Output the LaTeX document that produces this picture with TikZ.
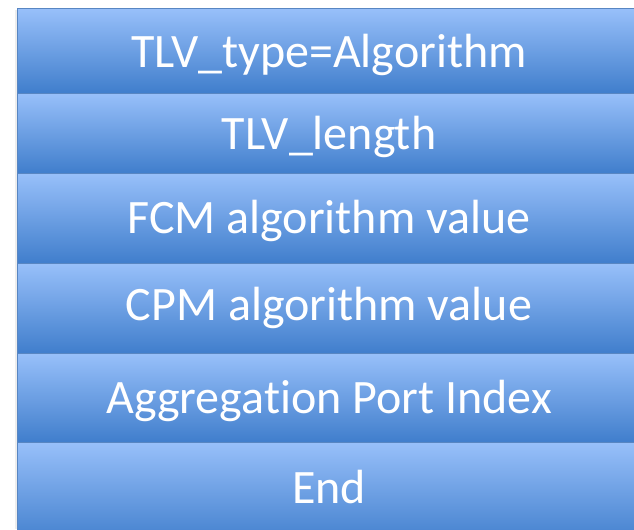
\documentclass[tikz,border=0pt]{standalone}
\usepackage{fontspec}
\setmainfont{Carlito}[Ligatures=NoCommon]
\definecolor{FieldTop}{RGB}{152,192,250}
\definecolor{FieldBottom}{RGB}{64,126,204}
\definecolor{FieldEdge}{RGB}{88,134,194}
\usetikzlibrary{positioning}
\tikzset{
  field/.style={top color=FieldTop, bottom color=FieldBottom, draw=FieldEdge, line width=0.75pt},
  fieldtext/.style={text=white, inner sep=0pt, anchor=base, font=\fontsize{36}{42}\selectfont}
}

\begin{document}
\begin{tikzpicture}[x=0.75pt, y=-0.75pt]
    \useasboundingbox (0,0) rectangle (634,529);
    \clip (0,0) rectangle (634,529);
    % faint shadow on the left side
    \fill[black!7] (14.5,10) rectangle (17,529);

    \foreach \n/\top/\bot/\base/\t in {type/8/93/67/TLV\_type=Algorithm, length/93/173/149/TLV\_length, fcm/173/263/233/FCM algorithm value, cpm/263/353/320/CPM algorithm value, port/353/442/413/Aggregation Port Index, end/442/545/503/End} {
        \shade[field] (17,\top) rectangle (641,\bot);
        \node[fieldtext] (\n) at (329,\base) {\t};
    }
\end{tikzpicture}
\end{document}
